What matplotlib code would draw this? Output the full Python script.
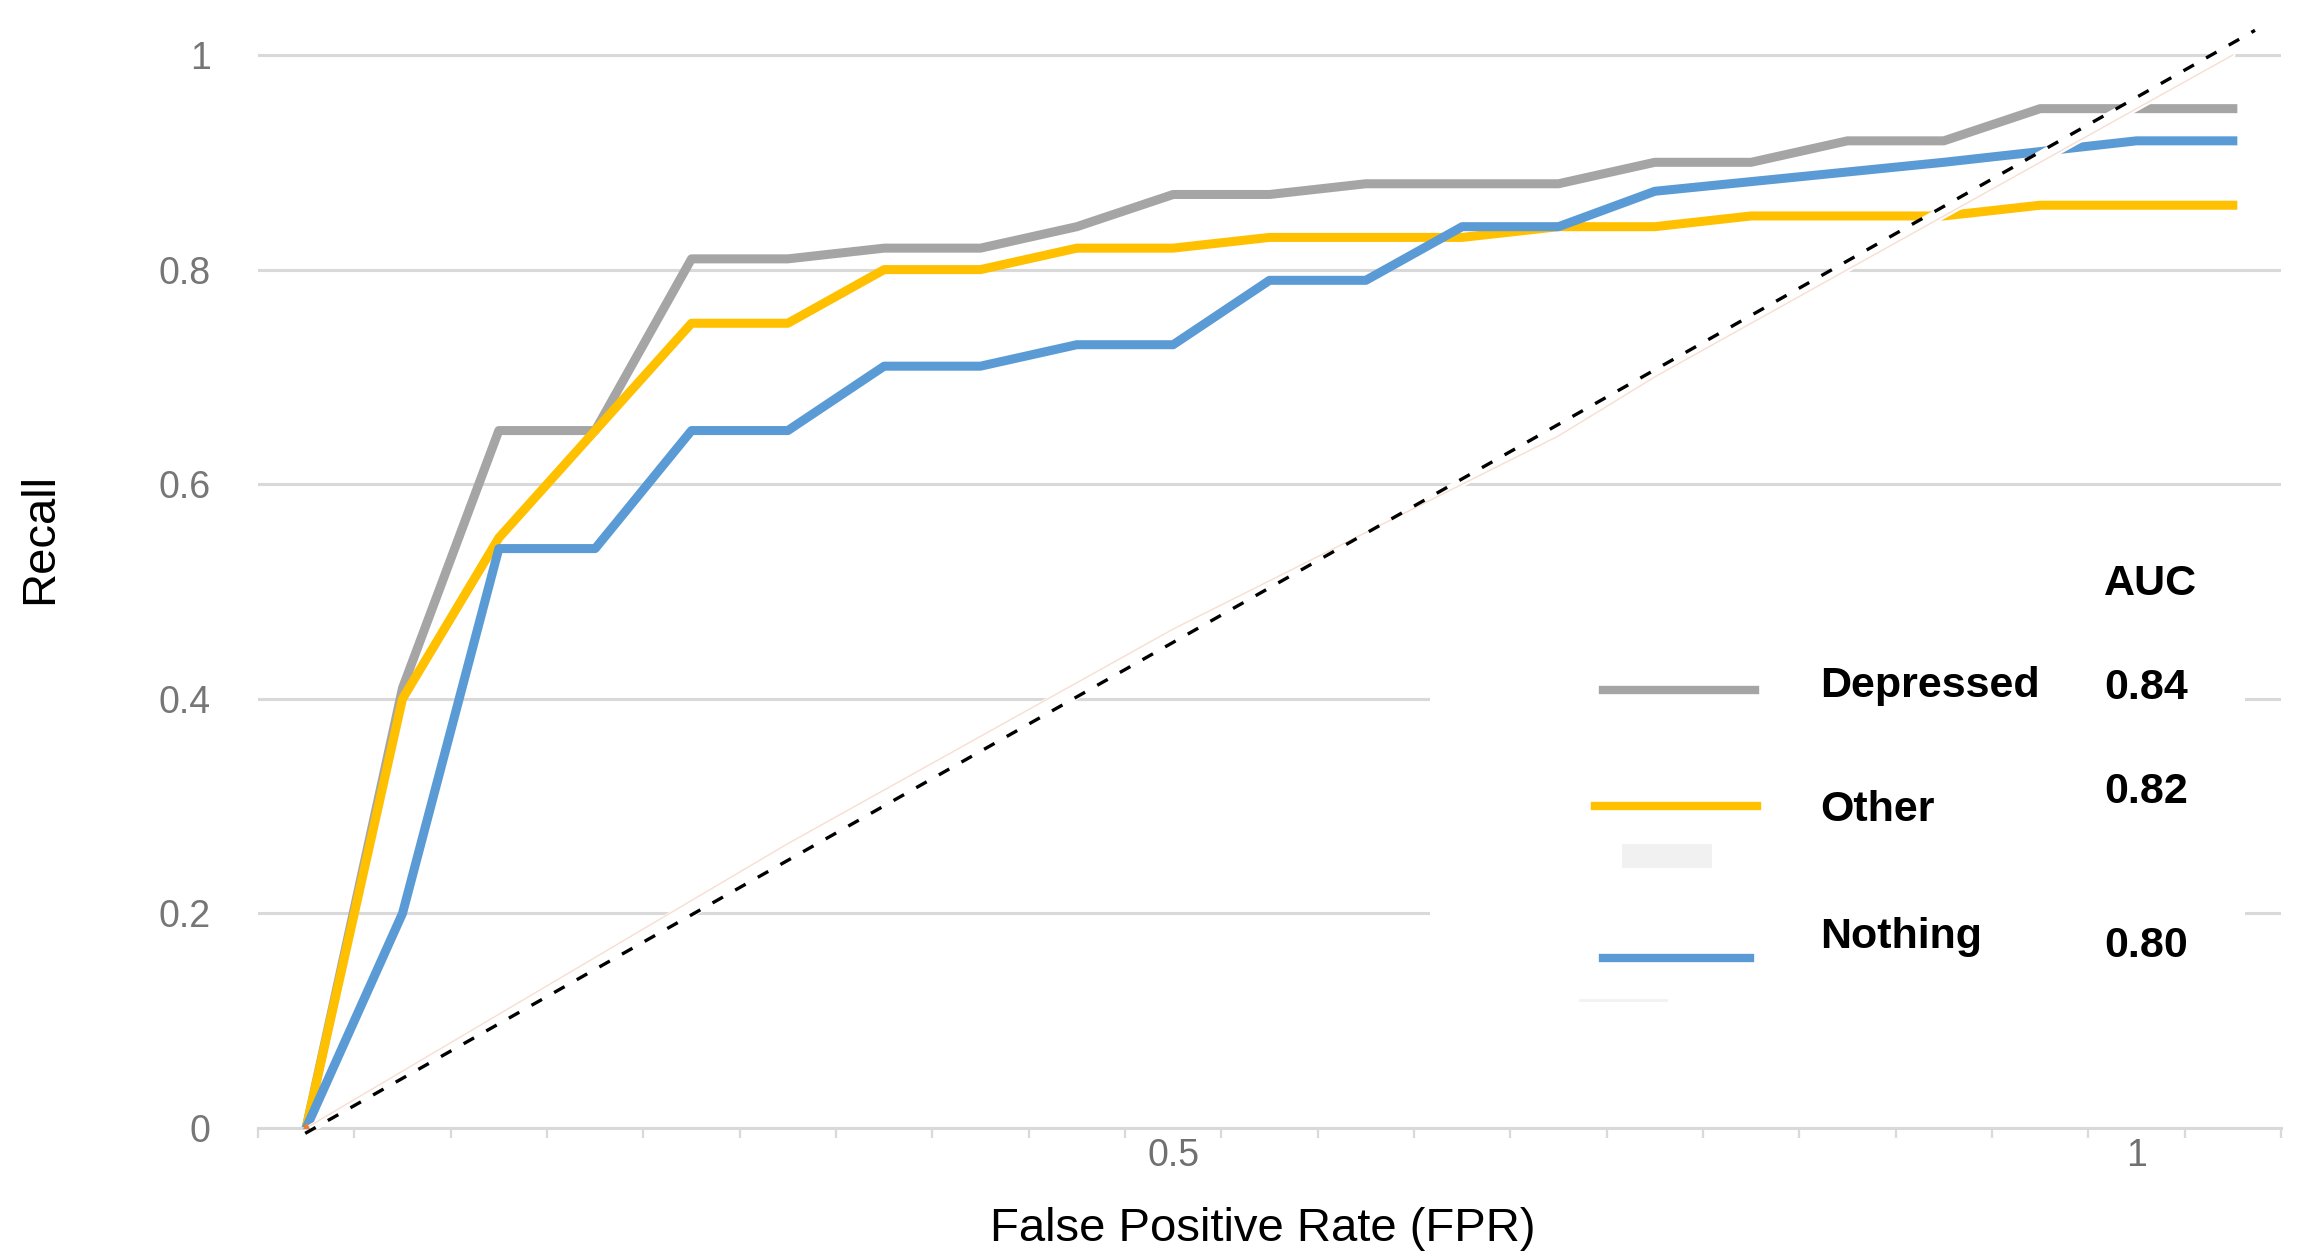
import numpy as np
import matplotlib
matplotlib.use("Agg")
import matplotlib.pyplot as plt
from matplotlib import font_manager
from matplotlib.patches import Rectangle

plt.rcParams['font.family'] = ['Liberation Sans', 'DejaVu Sans']

# 数据 (21 FPR categories)
depressed = [0, 0.41, 0.65, 0.65, 0.81, 0.81, 0.82, 0.82, 0.84, 0.87, 0.87,
             0.88, 0.88, 0.88, 0.90, 0.90, 0.92, 0.92, 0.95, 0.95, 0.95]
other = [0, 0.40, 0.55, 0.65, 0.75, 0.75, 0.80, 0.80, 0.82, 0.82, 0.83,
         0.83, 0.83, 0.84, 0.84, 0.85, 0.85, 0.85, 0.86, 0.86, 0.86]
nothing = [0, 0.20, 0.54, 0.54, 0.65, 0.65, 0.71, 0.71, 0.73, 0.73, 0.79,
           0.79, 0.84, 0.84, 0.873, 0.882, 0.891, 0.90, 0.91, 0.92, 0.92]
chance = [0, 0.053, 0.106, 0.159, 0.212, 0.265, 0.315, 0.365, 0.415, 0.465, 0.51,
          0.555, 0.60, 0.645, 0.70, 0.75, 0.80, 0.85, 0.90, 0.95, 1.0]
trend_x = [-0.01, 20.23]
trend_y = [-0.005, 1.023]

x_tick_pos = [9, 19]
x_tick_labels = ['0.5', '1']
y_ticks = [0, 0.2, 0.4, 0.6, 0.8, 1]
y_tick_labels = ['0', '0.2', '0.4', '0.6', '0.8', '1']

classes = ['Depressed', 'Other', 'Nothing']
auc = ['0.84', '0.82', '0.80']
colors = ['#A5A5A5', '#FFC000', '#5B9BD5']

W, H = 2313, 1256


def fx(px):
    return px / W


def fy(py):
    return 1 - py / H


# axis titles look condensed in the original
fonts = {f.name for f in font_manager.fontManager.ttflist}
if 'Liberation Sans Narrow' in fonts:
    title_font, title_size = 'Liberation Sans Narrow', 38
else:
    title_font, title_size = 'Liberation Sans', 34

fig = plt.figure(figsize=(W / 100, H / 100), dpi=100)
ax = fig.add_axes([fx(258), fy(1128), fx(2281) - fx(258), (1128 - 1.35) / H])

x = np.arange(len(depressed))
grid_c = '#d9d9d9'
lw = 6.5

ax.plot(x, depressed, color=colors[0], lw=lw, zorder=2)
ax.plot(x, other, color=colors[1], lw=lw, zorder=2)
ax.plot(x, nothing, color=colors[2], lw=lw, zorder=2)

# white band between the chance series and its trendline
trend_at_x = np.interp(x, trend_x, trend_y)
ax.fill_between(x, chance, trend_at_x, color='white', lw=3, edgecolor='white', zorder=3)
ax.plot(x, chance, color='#f9ddd0', lw=1.0, zorder=4)
ax.plot(x[0], chance[0], marker='^', ms=7, color='#ED7D31', zorder=6)
ax.plot(trend_x, trend_y, color='black', lw=2.4, dashes=(3.6, 4.2), zorder=5, clip_on=False)

ax.set_xlim(-0.5, 20.5)
ax.set_ylim(0, 1.05)
ax.set_yticks(y_ticks)
ax.set_yticklabels(y_tick_labels)
ax.set_xticks(x_tick_pos)
ax.set_xticklabels(x_tick_labels)
ax.set_xticks(np.arange(-0.5, 21, 1), minor=True)
ax.yaxis.grid(True, color=grid_c, lw=2.2)
ax.set_axisbelow(True)
for s in ['top', 'right', 'left']:
    ax.spines[s].set_visible(False)
ax.spines['bottom'].set_color(grid_c)
ax.spines['bottom'].set_linewidth(2.2)
ax.tick_params(axis='y', length=0, pad=34, labelsize=27, labelcolor='#767676')
ax.tick_params(axis='x', which='major', length=0, pad=7, labelsize=27, labelcolor='#707070')
ax.tick_params(axis='x', which='minor', length=7, width=1.6, color=grid_c)

# legend area (white box hides the gridlines)
ax.add_patch(Rectangle((fx(1430), fy(1030)), fx(2245) - fx(1430), fy(560) - fy(1030),
                       transform=fig.transFigure, facecolor='white', edgecolor='none',
                       zorder=1, clip_on=False))
ax.add_patch(Rectangle((fx(1622), fy(868)), fx(1712) - fx(1622), fy(844) - fy(868),
                       transform=fig.transFigure, facecolor='#f1f1f1', edgecolor='none',
                       zorder=1.5, clip_on=False))
ax.plot([fx(1580), fx(1666)], [fy(1000), fy(1000)], transform=fig.transFigure,
        color='#f2f2f2', lw=2, clip_on=False, zorder=1.5)

line_y = [690, 806, 958]
line_x = [(1603, 1755), (1595, 1757), (1603, 1750)]
name_y = [686, 810, 937]
auc_y = [688, 792, 946]
for i in range(3):
    ax.plot([fx(line_x[i][0]), fx(line_x[i][1])], [fy(line_y[i]), fy(line_y[i])],
            transform=fig.transFigure, color=colors[i], lw=6, clip_on=False, zorder=2)
    fig.text(fx(1820), fy(name_y[i]), classes[i], fontsize=31, fontweight='bold',
             ha='left', va='center')
    fig.text(fx(2104), fy(auc_y[i]), auc[i], fontsize=31, fontweight='bold',
             ha='left', va='center')
fig.text(fx(2104), fy(584), 'AUC', fontsize=31, fontweight='bold', ha='left', va='center')

fig.text(fx(1263), fy(1229), 'False Positive Rate (FPR)', fontsize=title_size,
         family=[title_font, 'Liberation Sans'], ha='center', va='center')
fig.text(fx(40), fy(539), 'Recall', fontsize=title_size, rotation=90,
         family=[title_font, 'Liberation Sans'], ha='center', va='center')

plt.savefig('out.png', dpi=100)
